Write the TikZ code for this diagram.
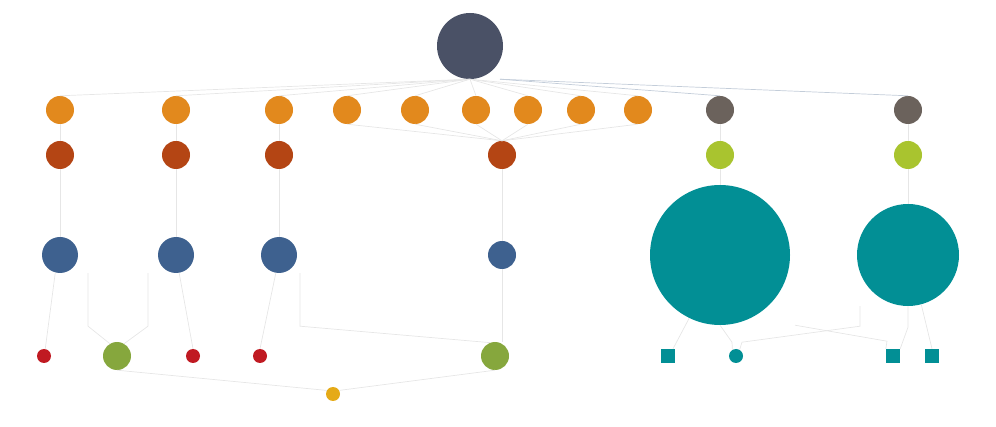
\documentclass[tikz,border=0pt]{standalone}
\usepackage{tikz}

\definecolor{rootgray}{HTML}{4A5166}
\definecolor{orng}{HTML}{E2891D}
\definecolor{rust}{HTML}{B44514}
\definecolor{stone}{HTML}{6B625C}
\definecolor{lime}{HTML}{A9C42F}
\definecolor{navy}{HTML}{3E618F}
\definecolor{teal}{HTML}{028F95}
\definecolor{crimson}{HTML}{C01A22}
\definecolor{olive}{HTML}{86A73D}
\definecolor{gold}{HTML}{E5AA17}
\definecolor{wire}{HTML}{E6E6E6}
\definecolor{bluewire}{HTML}{C3CDD9}

\begin{document}
\begin{tikzpicture}[x=1pt,y=-1pt,
  dot/.style={circle,inner sep=0pt,minimum size=#1},
  box/.style={rectangle,inner sep=0pt,minimum size=14,fill=teal},
  link/.style={draw=wire,line width=0.7pt}]
\useasboundingbox (0,0) rectangle (996,427);

% root
\node[dot=66,fill=rootgray] (root) at (470,46) {};

% first row
\foreach \i/\x in {1/60,2/176,3/279,4/347,5/415,6/476,7/528,8/581,9/638}
  \node[dot=28,fill=orng] (o\i) at (\x,110) {};
\node[dot=28,fill=stone] (g1) at (720,110) {};
\node[dot=28,fill=stone] (g2) at (908,110) {};

% second row
\node[dot=28,fill=rust] (d1) at (60,155) {};
\node[dot=28,fill=rust] (d2) at (176,155) {};
\node[dot=28,fill=rust] (d3) at (279,155) {};
\node[dot=28,fill=rust] (d4) at (502,155) {};
\node[dot=28,fill=lime] (y1) at (720,155) {};
\node[dot=28,fill=lime] (y2) at (908,155) {};

% third row
\node[dot=36,fill=navy] (b1) at (60,255) {};
\node[dot=36,fill=navy] (b2) at (176,255) {};
\node[dot=36,fill=navy] (b3) at (279,255) {};
\node[dot=28,fill=navy] (b4) at (502,255) {};
\node[dot=140,fill=teal] (t1) at (720,255) {};
\node[dot=102,fill=teal] (t2) at (908,255) {};

% leaves
\node[dot=14,fill=crimson] (r1) at (44,356) {};
\node[dot=28,fill=olive] (gr1) at (117,356) {};
\node[dot=14,fill=crimson] (r2) at (193,356) {};
\node[dot=14,fill=crimson] (r3) at (260,356) {};
\node[dot=28,fill=olive] (gr2) at (495,356) {};
\node[box] (s1) at (668,356) {};
\node[dot=14,fill=teal] (c1) at (736,356) {};
\node[box] (s2) at (893,356) {};
\node[box] (s3) at (932,356) {};
\node[dot=14,fill=gold] (yel) at (333,394) {};

% connectors
\foreach \i in {1,...,9}
  \draw[link] (root.south) -- (o\i.north);
\draw[draw=bluewire,line width=0.7pt] ([xshift=30]root.south) -- (g1.north);
\draw[draw=bluewire,line width=0.7pt] ([xshift=30]root.south) -- (g2.north);

\draw[link] (o1) -- (d1);
\draw[link] (o2) -- (d2);
\draw[link] (o3) -- (d3);
\foreach \i in {4,...,9}
  \draw[link] (o\i.south) -- (d4.north);
\draw[link] (d1) -- (b1);
\draw[link] (d2) -- (b2);
\draw[link] (d3) -- (b3);
\draw[link] (d4) -- (b4);
\draw[link] (g1) -- (y1);
\draw[link] (g2) -- (y2);
\draw[link] (y1) -- (t1);
\draw[link] (y2) -- (t2);

\draw[link] (b1.255) -- (r1.80);
\draw[link] ([xshift=28]b1.south) -- ++(0,53) -- (gr1.120);
\draw[link] ([xshift=-28]b2.south) -- ++(0,53) -- (gr1.60);
\draw[link] (b2.280) -- (r2.north);
\draw[link] (b3.260) -- (r3.north);
\draw[link] ([xshift=21]b3.south) -- ++(0,53) -- (gr2.110);
\draw[link] (b4.south) -- (b4.south |- gr2.north);
\draw[link] (gr1.south) -- (yel.150);
\draw[link] (gr2.south) -- (yel.30);

\draw[link] (t1.244) -- ([xshift=5]s1.north);
\draw[link] (t1.south) -- ++(12,17) -- (c1.120);
\draw[link] ([xshift=-48]t2.south) -- ++(0,20) -- ++(-118,16) -- (c1.60);
\draw[link] ([xshift=75]t1.south) -- ++(92,16) -- (s2.north west);
\draw[link] (t2.south) -- ++(0,21) -- (s2.north east);
\draw[link] (t2.285) -- (s3.north);
\end{tikzpicture}
\end{document}
